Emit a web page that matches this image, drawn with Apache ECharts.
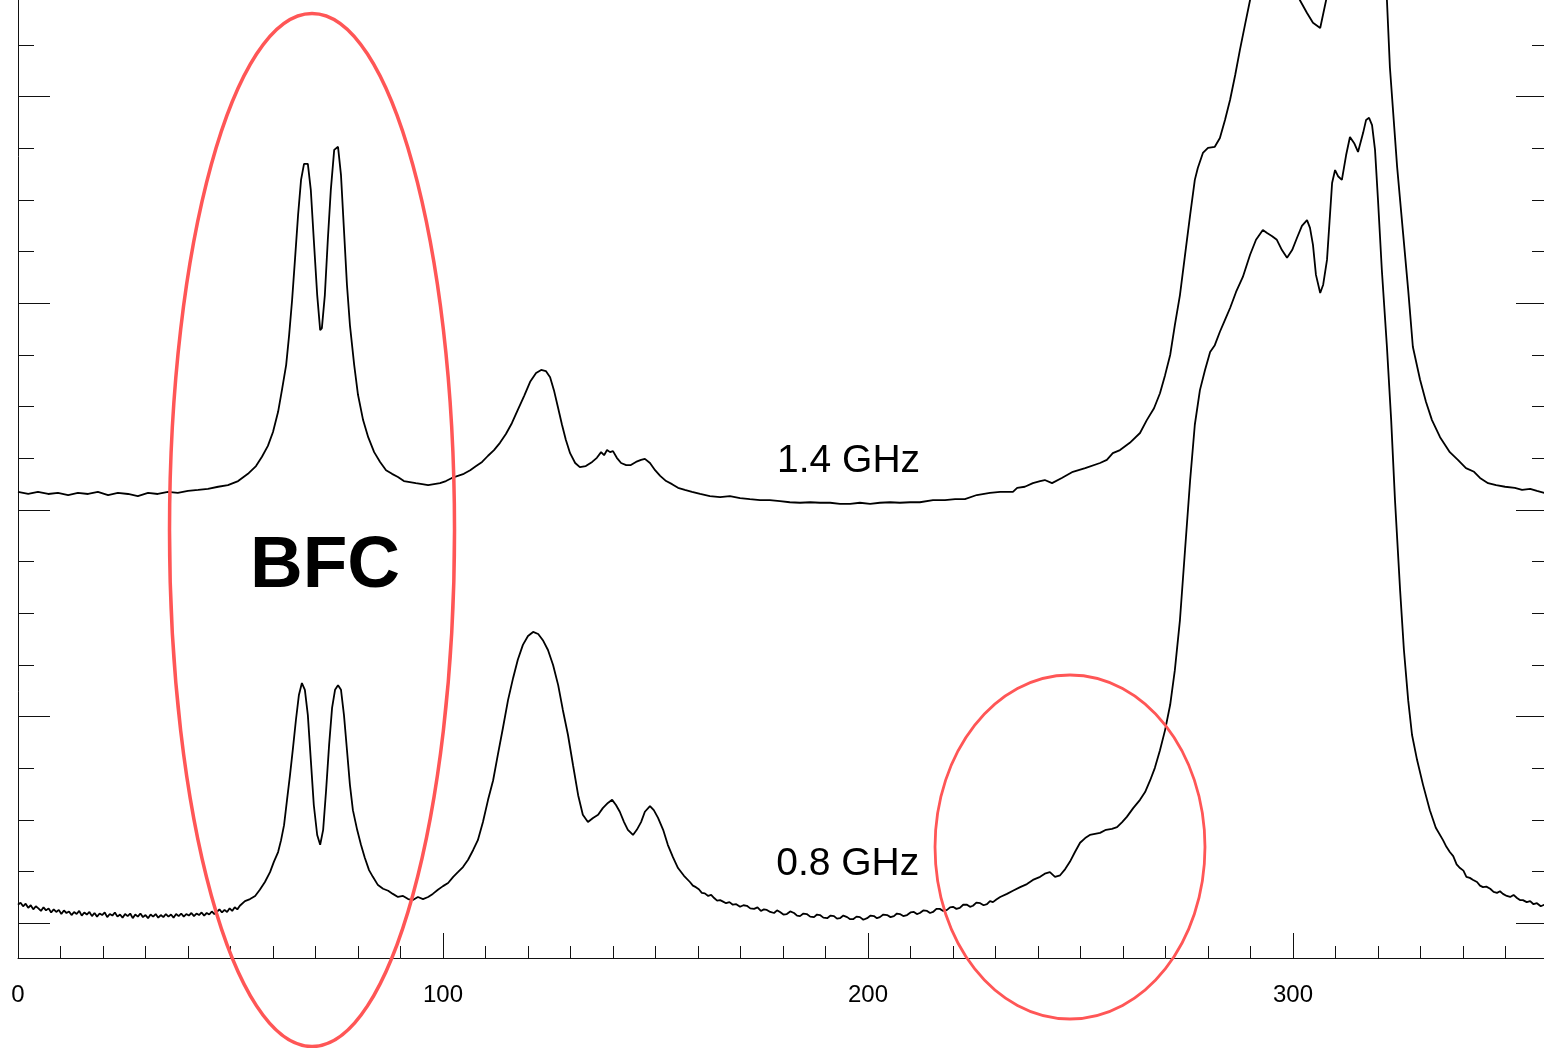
<!DOCTYPE html>
<html><head><meta charset="utf-8">
<script src="https://cdn.jsdelivr.net/npm/echarts@6/dist/echarts.min.js"></script>
<style>html,body{margin:0;padding:0;background:#fff;overflow:hidden;width:1544px;height:1048px;position:relative}#c{position:absolute;left:0;top:-110px;width:1560px;height:1158px}</style>
</head><body><div id="c"></div><script>
const xTickLabels = [0, 100, 200, 300];
const annotationTexts = ['1.4 GHz', '0.8 GHz', 'BFC'];

const spectrum14 = [
[0,8.35],[2.4,8.31],[4.7,8.35],[7.1,8.31],[9.4,8.33],[11.8,8.29],[14.1,8.33],[16.5,8.31],[18.8,8.35],[21.2,8.29],[23.5,8.33],[25.9,8.31],[28.2,8.27],[30.6,8.33],[32.9,8.31],[35.3,8.35],[37.6,8.33],[40,8.37],[42.4,8.39],[44.7,8.41],[47.1,8.45],[49.4,8.48],[51.8,8.56],[54.1,8.70],[56,8.85],[57.4,9.03],[58.8,9.24],[60,9.51],[61.2,9.90],[62.1,10.32],[63.1,10.81],[63.8,11.39],[64.5,12.07],[65.2,12.88],[65.9,13.71],[66.6,14.39],[67.3,14.70],[68.2,14.70],[68.9,14.19],[69.6,13.23],[70.4,12.16],[71.1,11.48],[71.5,11.52],[72.2,12.16],[72.9,13.23],[73.6,14.19],[74.4,14.97],[75.3,15.03],[76,14.48],[76.7,13.42],[77.4,12.36],[78.1,11.58],[79.1,10.81],[80,10.23],[81.2,9.74],[82.4,9.41],[83.8,9.12],[85.2,8.93],[86.6,8.77],[88,8.70],[89.4,8.64],[90.8,8.56],[92.2,8.54],[93.6,8.52],[95.1,8.50],[96.5,8.48],[97.9,8.50],[99.3,8.52],[100.7,8.56],[102.1,8.62],[103.5,8.66],[104.9,8.70],[106.4,8.77],[107.8,8.85],[109.2,8.93],[110.6,9.05],[112,9.16],[113.4,9.30],[114.8,9.47],[116.2,9.68],[117.6,9.94],[119.1,10.21],[120.5,10.48],[121.9,10.65],[123.1,10.71],[124.2,10.69],[125.2,10.57],[126.1,10.32],[127.1,9.97],[128,9.65],[128.9,9.36],[129.9,9.10],[131.1,8.91],[132.2,8.83],[133.6,8.85],[135.1,8.93],[136.2,9.01],[137.2,9.12],[137.9,9.06],[138.6,9.16],[139.3,9.12],[140,9.14],[140.9,9.01],[141.9,8.91],[143.1,8.87],[144.2,8.87],[145.4,8.93],[146.6,8.97],[147.5,8.99],[148.7,8.91],[149.9,8.77],[151.1,8.66],[152.5,8.56],[153.9,8.50],[155.3,8.43],[156.9,8.39],[158.6,8.35],[160.5,8.31],[162.8,8.27],[165.2,8.25],[167.5,8.27],[169.9,8.23],[172.2,8.21],[174.6,8.19],[176.9,8.19],[179.3,8.17],[181.6,8.15],[184,8.14],[186.4,8.15],[188.7,8.14],[191.1,8.14],[193.4,8.12],[195.8,8.12],[198.1,8.14],[200.5,8.12],[202.8,8.14],[205.2,8.15],[207.5,8.14],[209.9,8.15],[212.2,8.15],[215.3,8.19],[218.1,8.19],[220.5,8.21],[222.8,8.21],[225.6,8.29],[228.7,8.33],[231.1,8.35],[234.1,8.35],[235.1,8.43],[236.9,8.45],[238.8,8.52],[240.5,8.56],[241.6,8.58],[243.3,8.52],[245.6,8.62],[248.2,8.74],[251.1,8.81],[254.6,8.91],[256.2,8.97],[257.6,9.10],[259.3,9.16],[261.6,9.30],[264,9.49],[265.6,9.74],[267.3,9.97],[268.7,10.26],[269.9,10.61],[271.1,11.00],[272.2,11.58],[273.4,12.16],[274.6,12.94],[275.8,13.71],[276.9,14.39],[277.6,14.62],[278.8,14.91],[280,15.01],[281.6,15.03],[282.8,15.20],[284,15.55],[285.2,15.94],[286.4,16.42],[287.5,16.90],[288.7,17.39],[289.9,17.87],[291.1,18.55],[292.2,19.03],[294.6,19.71],[296.9,19.90],[299.3,19.23],[300.5,18.36],[301.6,17.87],[303.3,17.62],[304.7,17.43],[306.4,17.33],[307.8,17.87],[309.2,18.65],[311.1,19.71],[314.6,20.77],[318.1,20.39],[320.5,19.03],[322.1,17.87],[322.8,16.57],[324.5,14.64],[325.9,13.36],[327.1,12.26],[328.2,11.16],[329.9,10.52],[331.3,10.09],[332.7,9.74],[334.6,9.41],[336.9,9.12],[338.8,8.97],[340.7,8.81],[342.6,8.74],[344,8.62],[345.9,8.52],[347.8,8.48],[349.9,8.45],[352.2,8.43],[353.9,8.39],[355.8,8.41],[357.4,8.37],[359.1,8.33],[360,8.33]
];

const spectrum08 = [
[0,0.36],[0.6,0.40],[1.2,0.33],[1.8,0.38],[2.4,0.30],[3.0,0.35],[3.6,0.27],[4.2,0.33],[4.8,0.29],[5.4,0.24],[6.0,0.31],[6.6,0.25],[7.2,0.29],[7.8,0.21],[8.4,0.27],[9.0,0.22],[9.6,0.26],[10.2,0.18],[10.8,0.25],[11.4,0.20],[12.0,0.23],[12.6,0.16],[13.2,0.22],[13.8,0.18],[14.4,0.24],[15.0,0.15],[15.6,0.21],[16.2,0.17],[16.8,0.22],[17.4,0.14],[18.0,0.20],[18.6,0.13],[19.2,0.19],[19.8,0.16],[20.4,0.21],[21.0,0.12],[21.6,0.18],[22.2,0.15],[22.8,0.21],[23.4,0.13],[24.0,0.17],[24.6,0.11],[25.2,0.18],[25.8,0.14],[26.4,0.19],[27.0,0.10],[27.6,0.17],[28.2,0.13],[28.8,0.19],[29.4,0.12],[30.0,0.16],[30.6,0.10],[31.2,0.17],[31.8,0.13],[32.4,0.18],[33.0,0.11],[33.6,0.16],[34.2,0.12],[34.8,0.18],[35.4,0.13],[36.0,0.17],[36.6,0.11],[37.2,0.18],[37.8,0.14],[38.4,0.19],[39.0,0.13],[39.6,0.18],[40.2,0.15],[40.8,0.20],[41.4,0.14],[42.0,0.19],[42.6,0.16],[43.2,0.21],[43.8,0.15],[44.4,0.20],[45.0,0.17],[45.6,0.23],[46.2,0.18],[46.8,0.22],[47.4,0.27],[48.0,0.21],[48.6,0.26],[49.2,0.22],[49.8,0.29],[50.4,0.24],[51.0,0.31],[51.6,0.27],[52.2,0.34],[53.4,0.43],[54.6,0.47],[55.8,0.53],[56.9,0.65],[58.1,0.80],[59.3,0.99],[60.2,1.19],[61.2,1.38],[61.9,1.61],[62.6,1.90],[63.3,2.39],[64,2.87],[64.7,3.39],[65.4,3.94],[66.1,4.42],[66.8,4.65],[67.5,4.52],[68.2,4.03],[68.9,3.16],[69.6,2.29],[70.4,1.71],[71.1,1.52],[71.8,1.81],[72.5,2.58],[73.2,3.45],[73.9,4.17],[74.6,4.52],[75.3,4.61],[76,4.52],[76.7,4.03],[77.4,3.36],[78.1,2.68],[78.8,2.19],[79.8,1.81],[80.7,1.52],[81.6,1.27],[82.6,1.03],[83.5,0.90],[84.7,0.74],[85.9,0.67],[87.1,0.63],[88.2,0.57],[89.4,0.51],[90.6,0.53],[91.8,0.47],[92.9,0.45],[94.1,0.51],[95.3,0.47],[96.5,0.51],[97.6,0.57],[98.8,0.65],[100,0.72],[101.2,0.78],[102.4,0.90],[103.5,0.99],[104.7,1.09],[105.9,1.23],[107.1,1.42],[108.2,1.61],[109.4,1.96],[110.6,2.39],[111.8,2.77],[112.9,3.26],[114.1,3.78],[115.3,4.32],[116.5,4.75],[117.6,5.10],[118.8,5.39],[120,5.56],[121.2,5.64],[122.4,5.60],[123.5,5.48],[124.7,5.29],[125.9,5.00],[127.1,4.61],[128.2,4.13],[129.4,3.65],[130.6,3.06],[131.8,2.48],[132.9,2.10],[134.1,1.96],[135.3,2.04],[136.5,2.10],[137.6,2.23],[138.8,2.33],[139.8,2.39],[140.7,2.29],[141.6,2.16],[142.6,1.96],[143.5,1.81],[144.7,1.71],[145.6,1.81],[146.6,1.96],[147.5,2.16],[148.7,2.27],[149.6,2.19],[150.6,2.04],[151.8,1.81],[152.9,1.52],[154.1,1.28],[155.3,1.07],[156.7,0.92],[158.1,0.80],[158.8,0.73],[159.5,0.70],[160.2,0.66],[160.9,0.59],[161.6,0.58],[162.4,0.53],[163.1,0.55],[163.8,0.49],[164.5,0.44],[165.2,0.45],[165.9,0.42],[166.6,0.39],[167.4,0.41],[168.2,0.36],[169.0,0.37],[169.9,0.32],[170.7,0.35],[171.5,0.34],[172.3,0.29],[173.2,0.28],[174.0,0.31],[174.8,0.24],[175.5,0.27],[176.2,0.26],[177.0,0.22],[177.9,0.20],[178.6,0.25],[179.3,0.22],[180.1,0.17],[180.9,0.18],[181.7,0.23],[182.6,0.20],[183.3,0.15],[184,0.14],[184.8,0.19],[185.6,0.18],[186.4,0.13],[187.3,0.12],[188.0,0.17],[188.7,0.16],[189.5,0.11],[190.4,0.10],[191.2,0.15],[192,0.14],[192.7,0.09],[193.4,0.10],[194.2,0.15],[195.1,0.12],[195.8,0.08],[196.5,0.08],[197.3,0.13],[198.1,0.12],[198.9,0.07],[199.8,0.10],[200.6,0.15],[201.4,0.14],[202.1,0.10],[202.8,0.12],[203.6,0.17],[204.5,0.16],[205.3,0.12],[206.1,0.14],[206.8,0.19],[207.5,0.18],[208.3,0.14],[209.2,0.16],[210.0,0.21],[210.8,0.22],[211.5,0.18],[212.2,0.20],[213.0,0.25],[213.9,0.24],[214.6,0.20],[215.3,0.22],[216.1,0.28],[216.9,0.28],[217.7,0.24],[218.6,0.26],[219.3,0.31],[220,0.32],[220.8,0.28],[221.6,0.30],[222.4,0.36],[223.3,0.36],[224.0,0.32],[224.7,0.34],[225.5,0.40],[226.4,0.39],[227.2,0.35],[228,0.37],[228.7,0.43],[229.4,0.41],[230.2,0.46],[231.1,0.51],[232.7,0.57],[234.1,0.63],[235.8,0.70],[237.4,0.76],[238.8,0.84],[240.5,0.90],[241.6,0.96],[242.8,0.99],[244,0.90],[245.2,0.93],[246.4,1.05],[247.5,1.19],[248.7,1.38],[249.9,1.56],[251.1,1.65],[252.2,1.71],[253.4,1.73],[254.6,1.75],[256,1.81],[257.4,1.83],[258.6,1.86],[259.8,1.96],[260.9,2.06],[262.4,2.23],[264,2.39],[265.2,2.54],[266.4,2.77],[267.5,3.01],[268.7,3.35],[269.9,3.74],[271.1,4.23],[272.2,4.90],[273.4,5.87],[274.6,7.23],[275.8,8.58],[276.9,9.65],[278.1,10.32],[279.3,10.71],[280.5,11.06],[281.6,11.19],[282.8,11.45],[284,11.68],[285.2,11.91],[286.6,12.22],[288.2,12.51],[289.9,12.94],[291.3,13.23],[292.9,13.42],[293.9,13.36],[295.1,13.30],[296.2,13.23],[297.4,13.03],[298.6,12.88],[299.8,13.03],[300.9,13.26],[302.1,13.50],[303.3,13.61],[304,13.46],[304.7,13.13],[305.4,12.55],[306.4,12.20],[307.1,12.36],[308,12.84],[308.7,13.71],[309.2,14.33],[309.9,14.58],[310.6,14.46],[311.5,14.39],[312.5,14.87],[313.4,15.22],[314.4,15.10],[315.3,14.93],[316.5,15.30],[317.2,15.55],[317.9,15.59],[318.6,15.45],[319.3,14.97],[320,14.00],[320.9,12.65],[322.1,11.16],[323.1,9.74],[324,8.19],[325.2,6.45],[326.1,5.29],[327.1,4.32],[328,3.65],[329.2,3.16],[330.6,2.68],[332.2,2.19],[333.6,1.85],[335.3,1.61],[336.1,1.48],[336.9,1.38],[337.7,1.30],[338.5,1.14],[339.3,1.07],[340.1,1.02],[340.8,0.90],[341.6,0.88],[342.4,0.84],[343.3,0.80],[344.0,0.73],[344.7,0.70],[345.5,0.71],[346.4,0.67],[347.2,0.61],[348,0.59],[348.7,0.62],[349.4,0.57],[350.3,0.53],[351.1,0.51],[351.9,0.55],[352.7,0.49],[353.4,0.45],[354.1,0.45],[355.0,0.41],[355.8,0.43],[356.6,0.37],[357.4,0.39],[358.3,0.33],[359.1,0.36],[360,0.37]
];

const FONT = '"Liberation Sans", Arial, Helvetica, sans-serif';
const INK = '#111';
const RED = '#ff5656';

const chart = echarts.init(document.getElementById('c'), null, {renderer: 'canvas'});

const tickAxis = (pos) => ({
  gridIndex: 1, type: 'value', position: pos, min: 0, max: 20, interval: 4,
  axisLine: {show: false, onZero: false},
  axisTick: {show: true, inside: true, length: 32, lineStyle: {color: INK, width: 1}},
  minorTick: {show: true, splitNumber: 4, length: 16, lineStyle: {color: INK, width: 1}},
  axisLabel: {show: false}, splitLine: {show: false}
});

const option = {
  animation: false,
  backgroundColor: '#ffffff',
  grid: [
    {left: 18, top: 0, width: 1530, height: 1068},
    {left: 18, top: 0, width: 1530, height: 1033.333}
  ],
  xAxis: [
    {gridIndex: 0, type: 'value', position: 'bottom', min: 0, max: 360, interval: 10,
     axisLine: {show: true, onZero: false, lineStyle: {color: INK, width: 1}},
     axisTick: {show: true, inside: true, length: 12, lineStyle: {color: INK, width: 1}},
     axisLabel: {show: false}, splitLine: {show: false}},
    {gridIndex: 0, type: 'value', position: 'bottom', min: 0, max: 360, interval: 100,
     axisLine: {show: false, onZero: false},
     axisTick: {show: true, inside: true, length: 25, lineStyle: {color: INK, width: 1}},
     axisLabel: {show: true, margin: 25, fontSize: 24, fontFamily: FONT, color: '#000',
       showMaxLabel: false,
       formatter: v => xTickLabels.includes(v) ? String(v) : ''},
     splitLine: {show: false}},
    {gridIndex: 1, type: 'value', min: 0, max: 360, show: false}
  ],
  yAxis: [
    {gridIndex: 0, type: 'value', position: 'left', min: -0.67097, max: 20,
     axisLine: {show: true, onZero: false, lineStyle: {color: INK, width: 1}},
     axisTick: {show: false}, axisLabel: {show: false}, splitLine: {show: false}},
    tickAxis('left'),
    tickAxis('right')
  ],
  series: [
    {name: '1.4 GHz', type: 'line', xAxisIndex: 0, yAxisIndex: 0, data: spectrum14,
     symbol: 'none', silent: true, lineStyle: {color: '#000', width: 1.8}},
    {name: '0.8 GHz', type: 'line', xAxisIndex: 0, yAxisIndex: 0, data: spectrum08,
     symbol: 'none', silent: true, lineStyle: {color: '#000', width: 1.8}},
    {type: 'custom', xAxisIndex: 0, yAxisIndex: 0, clip: false, silent: true, z: 5,
     data: [[69.18, 7.613, 33.53, 9.997, 3.5], [247.53, 1.477, 31.76, 3.329, 2.8]],
     dimensions: ['x', 'y', 'rx', 'ry', 'w'], encode: {x: 0, y: 1},
     renderItem: (params, api) => {
       const c = api.coord([api.value(0), api.value(1)]);
       const ex = api.coord([api.value(0) + api.value(2), api.value(1) + api.value(3)]);
       return {type: 'ellipse',
         shape: {cx: c[0], cy: c[1], rx: Math.abs(ex[0] - c[0]), ry: Math.abs(c[1] - ex[1])},
         style: {fill: 'none', stroke: RED, lineWidth: api.value(4)}};
     }},
    {type: 'custom', xAxisIndex: 0, yAxisIndex: 0, clip: false, silent: true, z: 6,
     data: [[178.6, 8.95, 0], [178.4, 1.148, 1], [54.6, 6.9, 2]],
     dimensions: ['x', 'y', 'i'], encode: {x: 0, y: 1},
     renderItem: (params, api) => {
       const p = api.coord([api.value(0), api.value(1)]);
       const i = api.value(2);
       const font = i === 2 ? 'bold 73px ' + FONT : '39px ' + FONT;
       return {type: 'text', x: p[0], y: p[1],
         style: {text: annotationTexts[i], font: font, fill: '#000', align: 'left', verticalAlign: 'middle'}};
     }}
  ]
};
chart.setOption(option);
</script></body></html>
